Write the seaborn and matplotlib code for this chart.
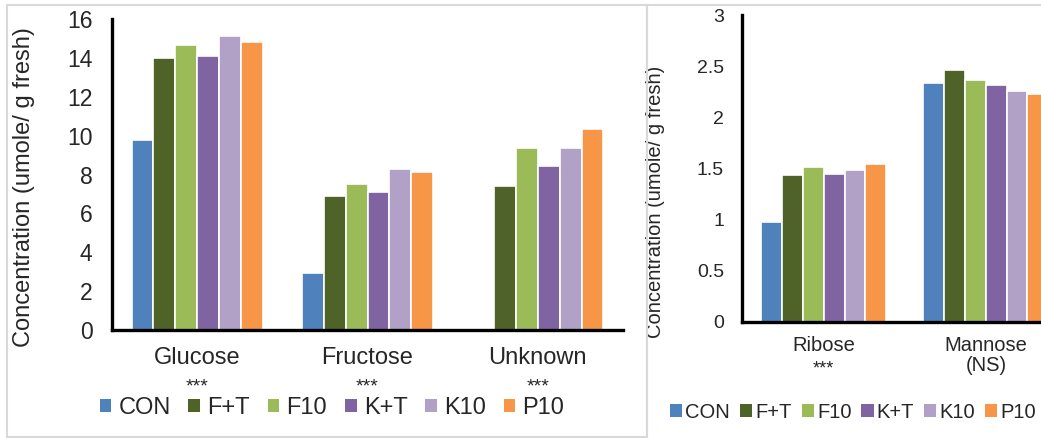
import numpy as np
import pandas as pd
import seaborn as sns
import matplotlib.pyplot as plt
from matplotlib.patches import Rectangle
from matplotlib.ticker import FuncFormatter

# données
treatments = ['CON', 'F+T', 'F10', 'K+T', 'K10', 'P10']
colors = ['#4F81BD', '#4F6228', '#9BBB59', '#8064A2', '#B2A1C7', '#F79646']

left_sugars = ['Glucose', 'Fructose', 'Unknown']
left_signif = ['***', '***', '***']
glucose = [9.8, 14.0, 14.65, 14.1, 15.1, 14.8]
fructose = [2.95, 6.9, 7.5, 7.1, 8.3, 8.15]
unknown = [0.0, 7.4, 9.35, 8.45, 9.35, 10.35]

right_sugars = ['Ribose', 'Mannose\n(NS)']
right_signif = ['***', '']
ribose = [0.98, 1.44, 1.51, 1.45, 1.49, 1.54]
mannose = [2.34, 2.46, 2.36, 2.32, 2.26, 2.23]

ylabel = 'Concentration (umole/ g fresh)'


def long_df(sugars, series):
    rows = []
    for s, vals in zip(sugars, series):
        for t, v in zip(treatments, vals):
            rows.append({'sugar': s, 'trt': t, 'conc': v})
    return pd.DataFrame(rows)


sns.set_theme(style='white')
plt.rcParams['font.family'] = ['Liberation Sans', 'DejaVu Sans']

W, H = 1041, 438
fig = plt.figure(figsize=(W / 100, H / 100), dpi=100)

# cadres gris des deux panneaux
fig.patches.append(Rectangle((7 / W, 1 - 437 / H), 640 / W, 432 / H, transform=fig.transFigure,
                             fill=False, edgecolor='#D9D9D9', linewidth=1.5))
fig.patches.append(Rectangle((647 / W, 1 - 440 / H), 400 / W, 435 / H, transform=fig.transFigure,
                             fill=False, edgecolor='#D9D9D9', linewidth=1.5))

ax1 = fig.add_axes([112 / W, 1 - 330 / H, 511 / W, 311 / H])
ax2 = fig.add_axes([742 / W, 1 - 322 / H, 320 / W, 307 / H])

df1 = long_df(left_sugars, [glucose, fructose, unknown])
df2 = long_df(right_sugars, [ribose, mannose])

sns.barplot(data=df1, x='sugar', y='conc', hue='trt', palette=colors, width=0.77,
            edgecolor='white', linewidth=1.2, saturation=1, ax=ax1)
sns.barplot(data=df2, x='sugar', y='conc', hue='trt', palette=colors, width=0.77,
            edgecolor='white', linewidth=1.2, saturation=1, ax=ax2)

fmt = FuncFormatter(lambda v, p: f'{v:g}')

# (axe, max, pas, taille texte, taille graduations, étoiles, pad x, pad y, position label, décalage étoiles, taille étoiles)
for ax, ymax, step, fs, tfs, sig, lpad, ypad, lc, soff, sfs in [
        (ax1, 16, 2, 17, 16.5, left_signif, 12, 14, (-0.151, 0.46), 44, 14),
        (ax2, 3, 0.5, 14.5, 14, right_signif, 10, 13, (-0.241, 0.392), 37, 13)]:
    ax.set_ylim(0, ymax)
    ax.set_yticks(np.arange(0, ymax + step / 2, step))
    ax.yaxis.set_major_formatter(fmt)
    ax.set_xlabel('')
    ax.set_ylabel(ylabel, fontsize=fs, color='#262626')
    ax.yaxis.set_label_coords(*lc)
    ax.tick_params(axis='both', length=0, colors='#262626')
    ax.tick_params(axis='y', labelsize=tfs, pad=ypad)
    ax.tick_params(axis='x', labelsize=fs, pad=lpad)
    for lab in ax.get_xticklabels():
        lab.set_linespacing(1.1)
    for s in ['top', 'right']:
        ax.spines[s].set_visible(False)
    for s in ['left', 'bottom']:
        ax.spines[s].set_color('black')
        ax.spines[s].set_linewidth(2.4)
    ax.get_legend().remove()
    # étoiles de significativité sous les noms
    for i, s in enumerate(sig):
        ax.annotate(s, xy=(i, 0), xycoords=('data', 'axes fraction'),
                    xytext=(0, -soff), textcoords='offset points',
                    ha='center', va='baseline', fontsize=sfs, color='#262626')

ax1.set_xlim(-0.5, 2.5)
ax2.set_xlim(-0.505, 1.47)

handles = [Rectangle((0, 0), 1, 1, facecolor=c, edgecolor='none') for c in colors]

fig.legend(handles, treatments, loc='center', bbox_to_anchor=(332 / W, 1 - 408 / H), ncol=6,
           frameon=False, fontsize=17, handlelength=0.5, handleheight=0.5,
           handletextpad=0.3, columnspacing=0.75, labelcolor='#262626')
fig.legend(handles, treatments, loc='center', bbox_to_anchor=(853 / W, 1 - 412 / H), ncol=6,
           frameon=False, fontsize=14.5, handlelength=0.6, handleheight=0.6,
           handletextpad=0.15, columnspacing=0.5, labelcolor='#262626')

fig.savefig('out.png', dpi=100)
